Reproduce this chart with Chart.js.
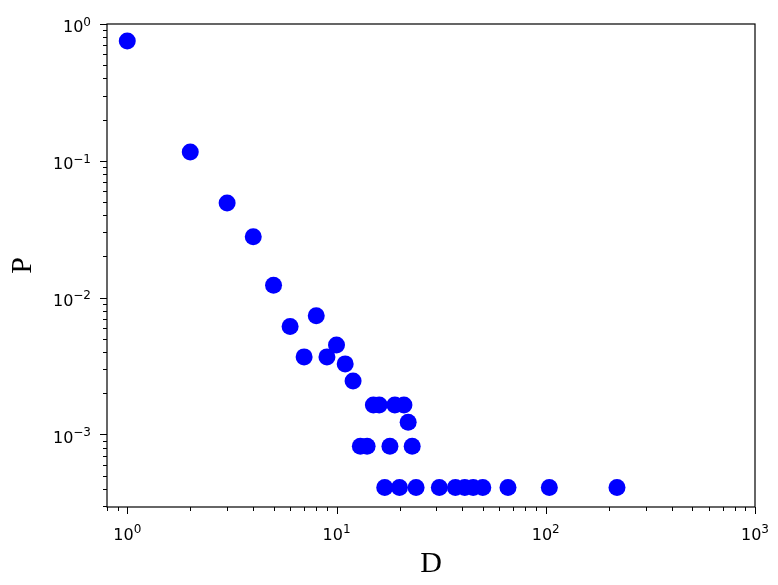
<!DOCTYPE html>
<html>
<head>
<meta charset="utf-8">
<script src="https://cdn.jsdelivr.net/npm/chart.js@4"></script>
<style>
  html, body { margin: 0; padding: 0; background: #fff; }
  #wrap { width: 778px; height: 585px; }
</style>
</head>
<body>
<div id="wrap"><canvas id="chart" width="778" height="585"></canvas></div>
<script>
// degree D and probability P
const degrees = [1, 2, 3, 4, 5, 6, 7, 8, 9, 10, 11, 12,
                 13, 14, 15, 16, 17, 18, 19, 20, 21, 22, 23, 24,
                 31, 37, 41, 45, 50, 66, 104, 219];
const probs = [0.751, 0.116, 0.0492, 0.0279, 0.0123, 0.00615, 0.00369, 0.00738, 0.00369, 0.00451, 0.00328, 0.00246,
               0.00082, 0.00082, 0.00164, 0.00164, 0.00041, 0.00082, 0.00164, 0.00041, 0.00164, 0.00123, 0.00082, 0.00041,
               0.00041, 0.00041, 0.00041, 0.00041, 0.00041, 0.00041, 0.00041, 0.00041];

// tick labels: base + exponent (drawn mathtext style)
const xMajorTicks = [1, 10, 100, 1000];
const xTickExp = ['0', '1', '2', '3'];
const yMajorTicks = [0.001, 0.01, 0.1, 1];
const yTickExp = ['−3', '−2', '−1', '0'];

const xMin = 0.8, xMax = 1000;
const yMin = 2.95e-4, yMax = 1;

const points = degrees.map((d, i) => ({ x: d, y: probs[i] }));

// decade + 2..9 minor ticks inside [lo, hi]
function logTicks(lo, hi) {
    const out = [];
    for (let e = Math.floor(Math.log10(lo)); e <= Math.ceil(Math.log10(hi)); e++) {
        for (let m = 1; m <= 9; m++) {
            const v = m * Math.pow(10, e);
            if (v >= lo * 0.9999 && v <= hi * 1.0001) out.push({ value: v, major: m === 1 });
        }
    }
    return out;
}

const BASE_FONT = '16px "DejaVu Sans"';
const SUP_FONT = '12px "DejaVu Sans"';

// "10" with a raised exponent; returns widths
function drawPow(ctx, x, baseline, exp) {
    ctx.font = BASE_FONT;
    ctx.fillText('10', x, baseline);
    const w1 = ctx.measureText('10').width;
    ctx.font = SUP_FONT;
    ctx.fillText(exp, x + w1, baseline - 6.7);
}
function powWidth(ctx, exp) {
    ctx.font = BASE_FONT;
    const w1 = ctx.measureText('10').width;
    ctx.font = SUP_FONT;
    return w1 + ctx.measureText(exp).width;
}

// matplotlib style frame, outward tick marks and tick labels
const framePlugin = {
    id: 'frame',
    afterDraw(chart) {
        const ctx = chart.ctx;
        const a = chart.chartArea;
        ctx.save();
        ctx.strokeStyle = '#000';
        ctx.fillStyle = '#000';
        ctx.lineWidth = 1.2;
        ctx.strokeRect(a.left, a.top, a.right - a.left, a.bottom - a.top);
        ctx.lineWidth = 1;

        const xs = chart.scales.x;
        xs.ticks.forEach(t => {
            const px = Math.round(xs.getPixelForValue(t.value)) + 0.5;
            const len = t.major ? 7 : 4;
            ctx.beginPath();
            ctx.moveTo(px, a.bottom);
            ctx.lineTo(px, a.bottom + len);
            ctx.stroke();
        });
        const ys = chart.scales.y;
        ys.ticks.forEach(t => {
            const py = Math.round(ys.getPixelForValue(t.value)) + 0.5;
            const len = t.major ? 7 : 4;
            ctx.beginPath();
            ctx.moveTo(a.left, py);
            ctx.lineTo(a.left - len, py);
            ctx.stroke();
        });

        ctx.textAlign = 'left';
        ctx.textBaseline = 'alphabetic';
        xMajorTicks.forEach((v, i) => {
            const px = xs.getPixelForValue(v);
            const w = powWidth(ctx, xTickExp[i]);
            drawPow(ctx, px - w / 2, a.bottom + 32.5, xTickExp[i]);
        });
        yMajorTicks.forEach((v, i) => {
            const py = ys.getPixelForValue(v);
            const w = powWidth(ctx, yTickExp[i]);
            drawPow(ctx, a.left - 16 - w, py + 8.4, yTickExp[i]);
        });
        ctx.restore();
    }
};

const titleFont = { family: '"Liberation Serif"', size: 30 };

new Chart(document.getElementById('chart').getContext('2d'), {
    type: 'scatter',
    data: {
        datasets: [{
            data: points,
            backgroundColor: '#0000ff',
            borderWidth: 0,
            pointRadius: 8.5,
            pointHoverRadius: 8.5
        }]
    },
    options: {
        responsive: false,
        animation: false,
        layout: { padding: { top: 24, right: 23, left: 0, bottom: 0 } },
        plugins: {
            legend: { display: false },
            tooltip: { enabled: false }
        },
        scales: {
            x: {
                type: 'logarithmic',
                min: xMin,
                max: xMax,
                afterBuildTicks: s => { s.ticks = logTicks(xMin, xMax); },
                afterFit: s => { s.height = 78; },
                grid: { display: false },
                border: { display: false },
                ticks: { display: false },
                title: {
                    display: true,
                    text: 'D',
                    color: '#000',
                    font: titleFont,
                    padding: { top: 0, bottom: 3 }
                }
            },
            y: {
                type: 'logarithmic',
                min: yMin,
                max: yMax,
                afterBuildTicks: s => { s.ticks = logTicks(yMin, yMax); },
                afterFit: s => { s.width = 107; },
                grid: { display: false },
                border: { display: false },
                ticks: { display: false },
                title: {
                    display: true,
                    text: 'P',
                    color: '#000',
                    font: titleFont,
                    padding: { top: 5, bottom: 0 }
                }
            }
        }
    },
    plugins: [framePlugin]
});
</script>
</body>
</html>
